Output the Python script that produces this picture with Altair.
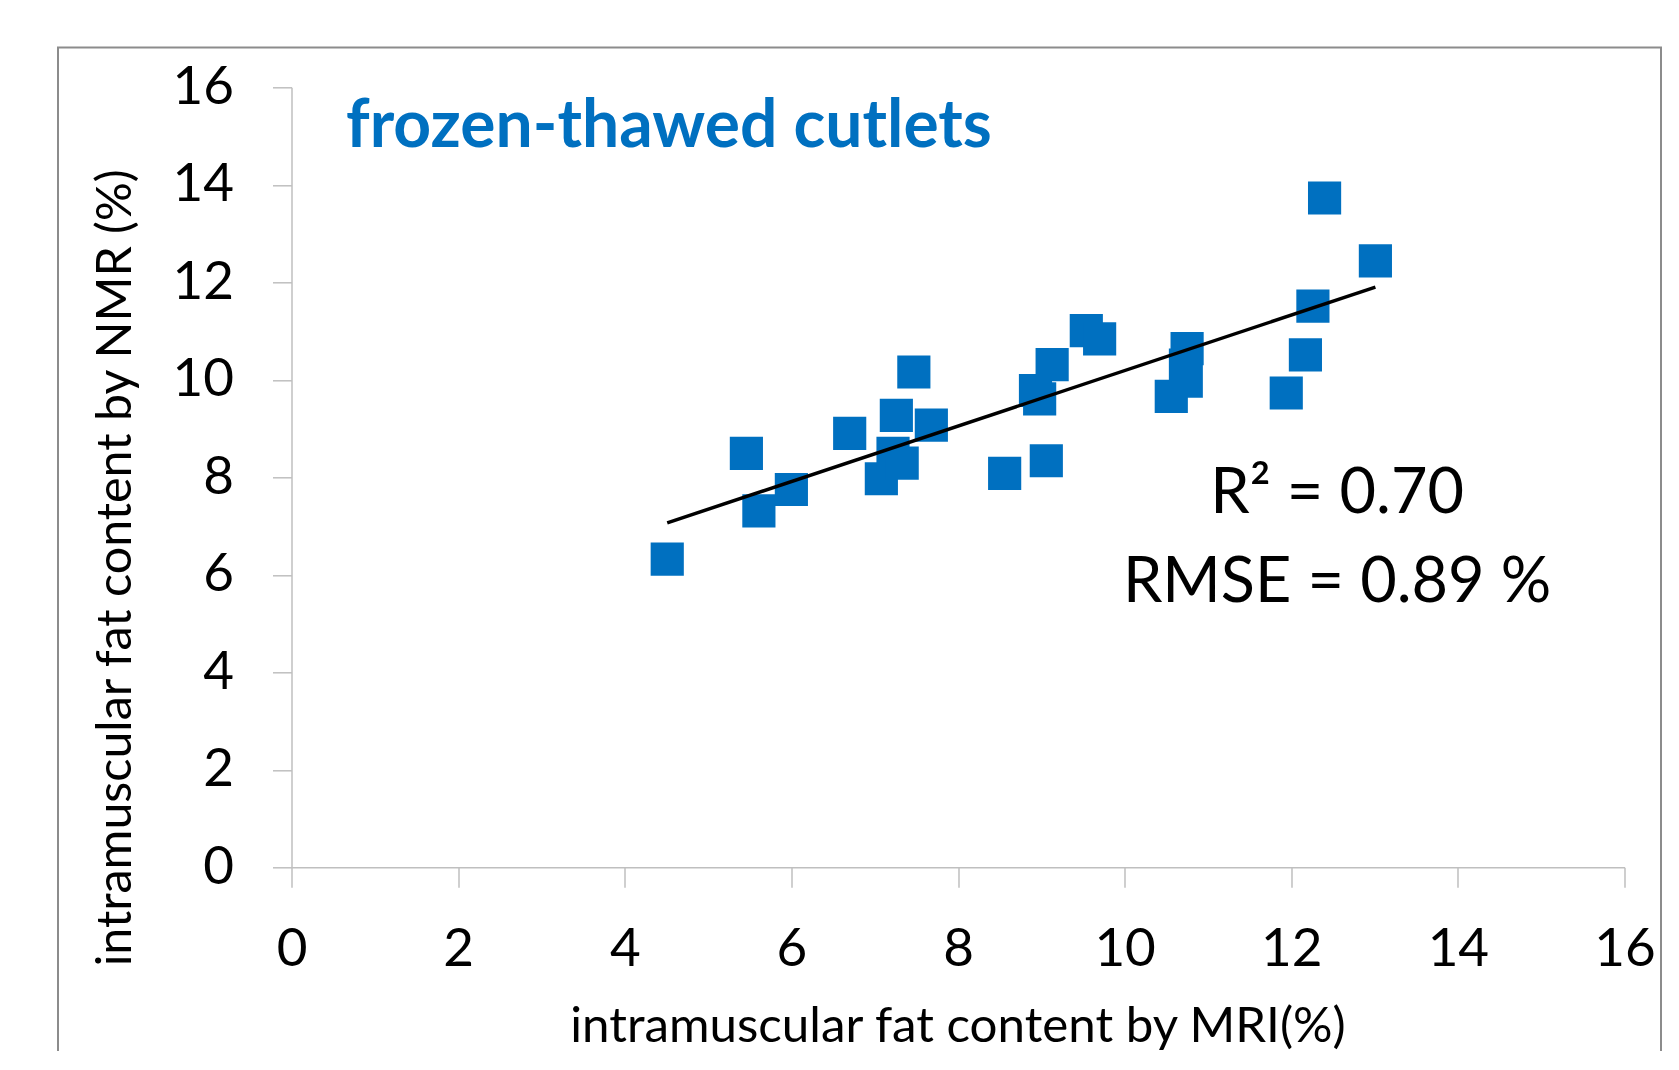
import altair as alt
import pandas as pd

# ---- data ----
mri = [4.51, 5.46, 5.61, 6.00, 6.70, 7.08, 7.26, 7.22, 7.33, 7.47, 7.68, 8.56, 8.93, 8.98,
       9.06, 9.13, 9.54, 9.70, 10.56, 10.75, 10.73, 10.74, 11.94, 12.17, 12.26, 12.40, 13.01]
nmr = [6.32, 8.49, 7.31, 7.75, 8.90, 7.97, 9.27, 8.49, 8.29, 10.16, 9.07, 8.08, 9.78, 9.61,
       8.34, 10.31, 11.01, 10.84, 9.66, 10.64, 10.30, 9.97, 9.73, 10.51, 11.51, 13.73, 12.44]
tick_values = [0, 2, 4, 6, 8, 10, 12, 14, 16]

stat_texts = ["R² = 0.70", "RMSE = 0.89 %"]
stat_x = [12.55, 12.55]
stat_y = [7.26, 5.45]

title_text = ["frozen-thawed cutlets"]
title_x = [0.654]
title_y = [14.78]

x_title = "intramuscular fat content by MRI(%)"
y_title = "intramuscular fat content by NMR (%)"

points_df = pd.DataFrame({"x": mri, "y": nmr})
stats_df = pd.DataFrame({"x": stat_x, "y": stat_y, "label": stat_texts})
title_df = pd.DataFrame({"x": title_x, "y": title_y, "label": title_text})

W, H = 1333, 780
FONT = "Lato"
AXIS_GRAY = "#bfbfbf"

X = alt.X("x:Q", title=x_title,
          scale=alt.Scale(domain=[0, 16], nice=False, zero=True),
          axis=alt.Axis(values=tick_values, grid=False, domainColor=AXIS_GRAY, tickColor=AXIS_GRAY,
                        domainWidth=1.5, tickWidth=1.5, tickSize=20, labelPadding=36,
                        labelFlush=False, labelOverlap=False,
                        labelFontSize=53, labelFont=FONT, labelColor="black",
                        titleFont=FONT, titleFontSize=49.3, titleFontWeight="normal", titleColor="black",
                        titleX=666, titleY=174, titleAlign="center", titleBaseline="alphabetic"))
Y = alt.Y("y:Q", title=y_title,
          scale=alt.Scale(domain=[0, 16], nice=False, zero=True),
          axis=alt.Axis(values=tick_values, grid=False, domainColor=AXIS_GRAY, tickColor=AXIS_GRAY,
                        domainWidth=1.5, tickWidth=1.5, tickSize=19, labelPadding=39,
                        labelFlush=False, labelOverlap=False,
                        labelFontSize=53, labelFont=FONT, labelColor="black",
                        titleFont=FONT, titleFontSize=48.4, titleFontWeight="normal", titleColor="black",
                        titleX=-161.5, titleY=480, titleAngle=-90, titleAlign="center",
                        titleBaseline="alphabetic"))

frame = alt.Chart(alt.Data(values=[{"k": 1}])).mark_rect(
    fill=None, stroke="#8c8c8c", strokeWidth=2, clip=False
).encode(
    x=alt.value(-233.5), x2=alt.value(1369.5),
    y=alt.value(-39.8), y2=alt.value(1100),
)

points = alt.Chart(points_df).mark_point(
    shape="square", filled=True, size=1100, color="#0070C0", opacity=1
).encode(x=X, y=Y)

fit = alt.Chart(points_df).transform_regression("x", "y").mark_line(
    color="black", strokeWidth=3.5
).encode(x=X, y=Y)

stats = alt.Chart(stats_df).mark_text(
    font=FONT, fontSize=63, color="black", align="center", baseline="alphabetic"
).encode(x=X, y=Y, text="label:N")

ttl = alt.Chart(title_df).mark_text(
    font=FONT, fontSize=66, fontWeight="bold", color="#0070C0", align="left", baseline="alphabetic"
).encode(x=X, y=Y, text="label:N")

chart = alt.layer(frame, points, fit, stats, ttl).properties(
    width=W, height=H,
    autosize=alt.AutoSizeParams(type="none"),
    padding={"left": 283.5, "top": 79.3, "right": 38, "bottom": 184},
    background="white",
).configure_view(stroke=None)

chart.save("out.html", embed_options={"renderer": "svg", "actions": False})
